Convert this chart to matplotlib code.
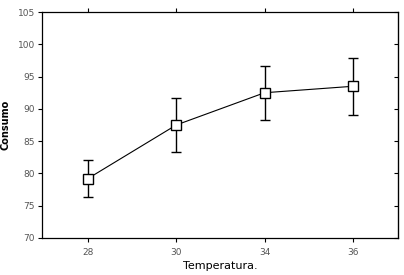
import matplotlib.pyplot as plt
import numpy as np

plt.rcdefaults()

temperaturas = ['28', '30', '34', '36']
consumo = [79.2, 87.5, 92.5, 93.5]
erro = [2.9, 4.2, 4.2, 4.4]
yticks = [70, 75, 80, 85, 90, 95, 100, 105]

fig = plt.figure(figsize=(4.04, 2.75), dpi=100)
ax1 = fig.add_axes([0.104, 0.135, 0.881, 0.821])

ind = np.arange(len(temperaturas))
ax1.errorbar(ind, consumo, yerr=erro, color='black', linewidth=0.8,
             elinewidth=1.0, capsize=3.5, capthick=1.0,
             marker='s', markersize=6.5, markerfacecolor='white',
             markeredgecolor='black', markeredgewidth=1.0)

ax1.set_xlim(-0.52, 3.51)
ax1.set_ylim(70, 105)
ax1.set_xticks(ind)
ax1.set_xticklabels(temperaturas)
ax1.set_yticks(yticks)

ax1.tick_params(axis='both', direction='out', length=3, width=0.8,
                labelsize=6.5, labelcolor='#555555', top=True, right=False)
ax1.tick_params(axis='x', pad=4)
ax1.tick_params(axis='y', pad=2)
ax2 = ax1.secondary_yaxis('right')
ax2.set_yticks(yticks)
ax2.tick_params(direction='in', length=3, width=0.8, labelright=False)

for sp in ax1.spines.values():
    sp.set_linewidth(0.9)

ax1.set_ylabel('Consumo', fontsize=7, fontweight='bold', labelpad=5)
ax1.set_xlabel('Temperatura.', fontsize=8, labelpad=3)

plt.savefig('out.png', dpi=100)
